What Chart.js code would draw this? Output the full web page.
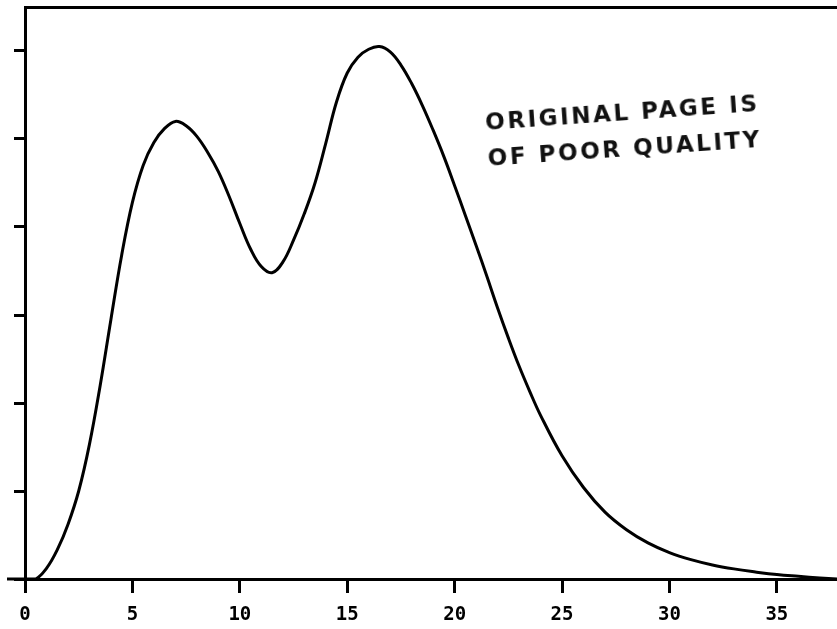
<!DOCTYPE html>
<html>
<head>
<meta charset="utf-8">
<script src="https://cdn.jsdelivr.net/npm/chart.js@4"></script>
<style>
  body { margin: 0; background: #fff; }
  #wrap { position: relative; width: 837px; height: 629px; overflow: hidden; }
  #stempel {
    position: absolute; left: 484px; top: 104px;
    font: bold 23px "DejaVu Sans", sans-serif; letter-spacing: 2.6px;
    line-height: 36px; color: #111; white-space: nowrap;
    transform: rotate(-4deg); transform-origin: 0 0;
  }
</style>
</head>
<body>
<div id="wrap">
  <canvas id="chart" width="837" height="629"></canvas>
  <div id="stempel">ORIGINAL PAGE IS<br>OF POOR QUALITY</div>
</div>
<script>
// Kurve
const xWerte = [0, 0.5, 1, 1.5, 2, 2.5, 3, 3.5, 4, 4.5, 5, 5.5, 6, 6.5, 7, 7.5, 8, 8.5, 9, 9.5,
  10, 10.5, 11, 11.5, 12, 12.5, 13, 13.5, 14, 14.5, 15, 15.5, 16, 16.5, 17, 17.5, 18, 18.5, 19, 19.5,
  20, 20.5, 21, 21.5, 22, 22.5, 23, 23.5, 24, 25, 26, 27, 28, 29, 30, 31, 32, 33, 34, 35, 36, 37, 37.8];
const yWerte = [0, 0, 0.12, 0.33, 0.62, 1.0, 1.53, 2.2, 2.95, 3.68, 4.28, 4.7, 4.96, 5.12, 5.2, 5.15, 5.03, 4.85, 4.63, 4.35,
  4.04, 3.75, 3.55, 3.48, 3.6, 3.85, 4.15, 4.5, 4.95, 5.42, 5.75, 5.93, 6.02, 6.05, 5.99, 5.84, 5.63, 5.38, 5.1, 4.8,
  4.47, 4.13, 3.79, 3.44, 3.08, 2.74, 2.42, 2.13, 1.86, 1.4, 1.04, 0.76, 0.56, 0.41, 0.3, 0.22, 0.16, 0.115, 0.08, 0.05, 0.03, 0.012, 0];
const xBereich = [0, 37.8];
const yBereich = [0, 6.5];
const xSchritt = 5;
const ySchritt = 1;

const punkte = xWerte.map((x, i) => ({ x, y: yWerte[i] }));

// x-Achse links über die y-Achse hinaus verlängern
const achsenStummel = {
  id: 'achsenStummel',
  afterDraw(chart) {
    const { ctx, chartArea } = chart;
    ctx.save();
    ctx.strokeStyle = '#000';
    ctx.lineWidth = 3;
    ctx.beginPath();
    ctx.moveTo(7, chartArea.bottom);
    ctx.lineTo(chartArea.left, chartArea.bottom);
    ctx.stroke();
    ctx.restore();
  },
};

new Chart(document.getElementById('chart'), {
  type: 'line',
  data: {
    datasets: [{
      data: punkte, borderColor: '#000', borderWidth: 3, pointRadius: 0,
      tension: 0.4, fill: false,
    }],
  },
  options: {
    responsive: false, animation: false, devicePixelRatio: 1,
    layout: { padding: 0 },
    plugins: { legend: { display: false }, tooltip: { enabled: false } },
    scales: {
      x: {
        type: 'linear', position: 'bottom', min: xBereich[0], max: xBereich[1],
        grid: { drawOnChartArea: false, tickLength: 14, tickWidth: 3, color: '#000' },
        border: { color: '#000', width: 3 },
        ticks: {
          stepSize: xSchritt, includeBounds: false, color: '#000', padding: 11, maxRotation: 0,
          font: { family: 'DejaVu Sans Mono', weight: 'bold', size: 19 },
          callback: (v) => String(v),
        },
        afterFit: (s) => { s.height = 50; },
      },
      oben: {
        type: 'linear', position: 'top', min: xBereich[0], max: xBereich[1],
        grid: { display: false }, ticks: { display: false },
        border: { color: '#000', width: 3 },
        afterFit: (s) => { s.height = 7; },
      },
      y: {
        type: 'linear', min: yBereich[0], max: yBereich[1],
        grid: { drawOnChartArea: false, tickLength: 11, tickWidth: 3, color: '#000' },
        border: { color: '#000', width: 3 },
        ticks: { stepSize: ySchritt, includeBounds: false, display: false },
        afterFit: (s) => { s.width = 25; },
      },
    },
  },
  plugins: [achsenStummel],
});
</script>
</body>
</html>
